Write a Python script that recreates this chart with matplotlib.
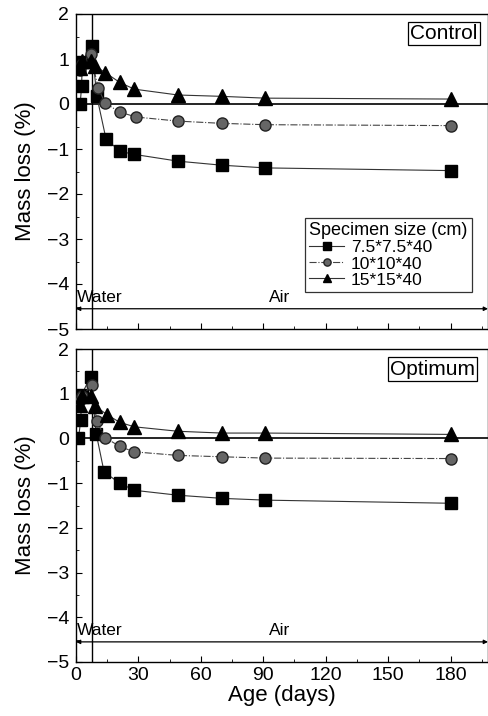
import matplotlib
matplotlib.use("Agg")
import matplotlib.pyplot as plt
from matplotlib.ticker import MultipleLocator

plt.rcParams['font.family'] = ['Liberation Sans', 'DejaVu Sans']
plt.rcParams['axes.unicode_minus'] = True

# ---- data ----
sizes = ["7.5*7.5*40", "10*10*40", "15*15*40"]
panels = ["Control", "Optimum"]

# Control
ctrl_sq_days = [2, 2.7, 3, 7.5, 10, 14.4, 21, 28, 49, 70, 91, 180]
ctrl_sq_vals = [0.0, 0.4, 0.94, 1.3, 0.17, -0.77, -1.05, -1.12, -1.27, -1.36, -1.42, -1.48]
ctrl_ci_days = [2, 3, 7, 10.7, 14, 21, 29, 49, 70, 91, 180]
ctrl_ci_vals = [0.75, 0.9, 1.1, 0.35, 0.02, -0.18, -0.29, -0.38, -0.43, -0.46, -0.48]
ctrl_tr_days = [2, 3, 7, 9, 14, 21, 28, 49, 70, 91, 180]
ctrl_tr_vals = [0.8, 0.95, 0.95, 0.85, 0.70, 0.48, 0.33, 0.20, 0.17, 0.13, 0.11]

# Optimum
opt_sq_days = [1.2, 2.3, 2.7, 7, 9.7, 13.5, 21, 28, 49, 70, 91, 180]
opt_sq_vals = [0.0, 0.42, 0.98, 1.38, 0.11, -0.75, -1.0, -1.16, -1.27, -1.34, -1.38, -1.45]
opt_ci_days = [2, 3, 7.5, 10, 14, 21, 28, 49, 70, 91, 180]
opt_ci_vals = [0.85, 0.95, 1.2, 0.38, 0.02, -0.18, -0.30, -0.38, -0.41, -0.44, -0.45]
opt_tr_days = [2, 3, 7, 9, 15, 21, 28, 49, 70, 91, 180]
opt_tr_vals = [0.75, 0.95, 0.95, 0.73, 0.53, 0.36, 0.26, 0.16, 0.12, 0.12, 0.09]

water_end = 7.8

fig = plt.figure(figsize=(4.89, 7.16), dpi=100)
W, H = 489, 716
L, R = 76, 488
ax1 = fig.add_axes([L / W, 1 - 329 / H, (R - L) / W, (329 - 14) / H])
ax2 = fig.add_axes([L / W, 1 - 662 / H, (R - L) / W, (662 - 349) / H])

datasets = [
    (ctrl_sq_days, ctrl_sq_vals, ctrl_ci_days, ctrl_ci_vals, ctrl_tr_days, ctrl_tr_vals),
    (opt_sq_days, opt_sq_vals, opt_ci_days, opt_ci_vals, opt_tr_days, opt_tr_vals),
]
label_pos = [(0.893, 0.938), (0.865, 0.936)]

for i, (ax, d) in enumerate(zip([ax1, ax2], datasets)):
    sqd, sqv, cid, civ, trd, trv = d
    ax.plot(sqd, sqv, '-', color='#333333', lw=0.8, marker='s', ms=8.3,
            mfc='black', mec='black', label=sizes[0], zorder=3)
    ax.plot(cid, civ, '-.', color='#444444', lw=0.8, marker='o', ms=8.0,
            mfc='#666666', mec='#222222', label=sizes[1], zorder=3)
    ax.plot(trd, trv, '-', color='#333333', lw=0.8, marker='^', ms=9.5,
            mfc='black', mec='black', label=sizes[2], zorder=3)
    ax.axhline(0, color='black', lw=1.2, zorder=2)
    ax.axvline(water_end, color='black', lw=1.0, zorder=2)
    ax.set_xlim(0, 198)
    ax.set_ylim(-5, 2)
    ax.xaxis.set_major_locator(MultipleLocator(30))
    ax.xaxis.set_minor_locator(MultipleLocator(15))
    ax.yaxis.set_major_locator(MultipleLocator(1))
    ax.yaxis.set_minor_locator(MultipleLocator(0.5))
    ax.tick_params(which='both', direction='in', labelsize=14)
    ax.tick_params(axis='y', pad=5)
    ax.tick_params(which='major', length=4)
    ax.tick_params(which='minor', length=2)
    for s in ax.spines.values():
        s.set_linewidth(1.0)
    ax.set_ylabel("Mass loss (%)", fontsize=16, labelpad=8)
    ax.annotate('', xy=(198, -4.55), xytext=(0, -4.55),
                arrowprops=dict(arrowstyle='<|-|>', color='black', lw=0.9,
                                mutation_scale=6, shrinkA=0, shrinkB=0))
    ax.text(0.5, -4.47, "Water", fontsize=12.5, ha='left', va='bottom')
    ax.text(98, -4.47, "Air", fontsize=12.5, ha='center', va='bottom')
    ax.text(label_pos[i][0], label_pos[i][1], panels[i], transform=ax.transAxes,
            fontsize=15, ha='center', va='center',
            bbox=dict(boxstyle='square,pad=0.1', fc='white', ec='black', lw=0.9))

ax1.tick_params(labelbottom=False)
ax2.set_xlabel("Age (days)", fontsize=16, labelpad=1)

leg = ax1.legend(title="Specimen size (cm)", loc='upper left',
                 bbox_to_anchor=(0.556, 0.352), fontsize=12.5, title_fontsize=13,
                 frameon=True, fancybox=False, edgecolor='black',
                 handlelength=2.0, handletextpad=0.4, borderpad=0.25,
                 labelspacing=0.05, markerscale=0.65, borderaxespad=0)
leg.get_frame().set_linewidth(0.9)
leg._legend_box.align = "left"

fig.savefig("out.png", dpi=100)
